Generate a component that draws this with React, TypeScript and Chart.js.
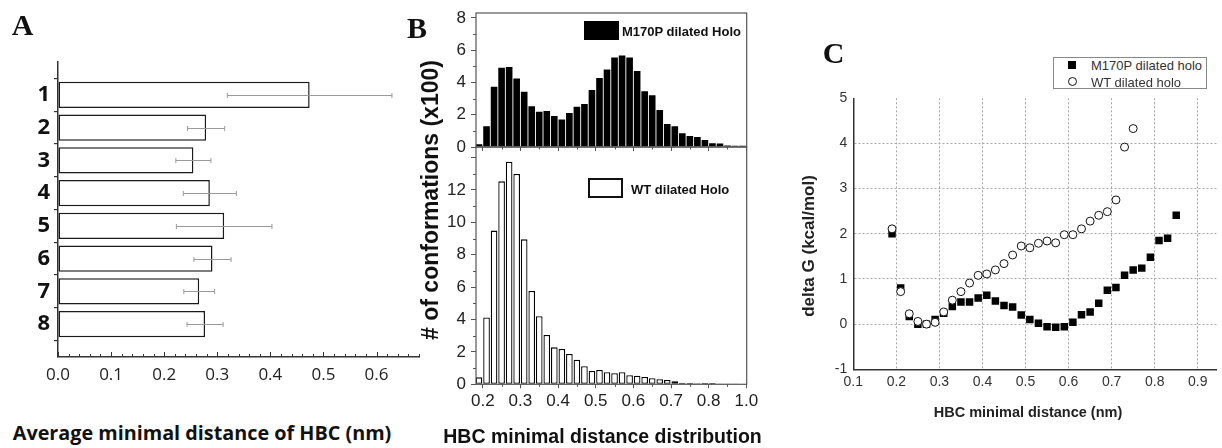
import React, { useEffect, useRef } from 'react';
import { Chart, registerables } from 'chart.js';

Chart.register(...registerables);

// ---------- Panel A data ----------
const groupLabels = ['1', '2', '3', '4', '5', '6', '7', '8'];
const avgDistance = [0.474, 0.279, 0.255, 0.286, 0.313, 0.291, 0.266, 0.277];
const avgError = [0.155, 0.035, 0.033, 0.05, 0.09, 0.035, 0.029, 0.034];

// ---------- Panel B data ----------
const binCenters = [
  0.19, 0.21, 0.23, 0.25, 0.27, 0.29, 0.31, 0.33, 0.35, 0.37,
  0.39, 0.41, 0.43, 0.45, 0.47, 0.49, 0.51, 0.53, 0.55, 0.57,
  0.59, 0.61, 0.63, 0.65, 0.67, 0.69, 0.71, 0.73, 0.75, 0.77,
  0.79, 0.81, 0.83, 0.85, 0.87, 0.89,
];
const m170pCounts = [
  0.17, 1.28, 3.73, 4.91, 4.95, 4.25, 3.42, 2.52, 2.19, 2.23,
  1.92, 1.71, 2.1, 2.49, 2.66, 3.53, 4.27, 4.8, 5.55, 5.67,
  5.55, 4.7, 3.46, 3.2, 2.29, 1.42, 1.28, 0.85, 0.68, 0.62,
  0.43, 0.23, 0.21, 0.1, 0.08, 0.08,
];
const wtCounts = [
  0.43, 4.12, 9.49, 12.53, 13.74, 12.98, 8.95, 5.76, 4.2, 3.05,
  2.28, 2.18, 1.87, 1.52, 1.11, 0.82, 0.88, 0.74, 0.68, 0.74,
  0.56, 0.53, 0.45, 0.37, 0.31, 0.27, 0.19, 0.1, 0.08, 0.06,
  0.08, 0.08, 0.02, 0.01, 0.01, 0.0,
];
const xTickLabelsB = ['0.2', '0.3', '0.4', '0.5', '0.6', '0.7', '0.8', '1.0'];

// ---------- Panel C data ----------
const m170pDistance = [
  0.19, 0.21, 0.23, 0.25, 0.27, 0.29, 0.31, 0.33, 0.35, 0.37, 0.39, 0.41,
  0.43, 0.45, 0.47, 0.49, 0.51, 0.53, 0.55, 0.57, 0.59, 0.61, 0.63, 0.65,
  0.67, 0.69, 0.71, 0.73, 0.75, 0.77, 0.79, 0.81, 0.83, 0.85,
];
const m170pDeltaG = [
  2.0, 0.8, 0.17, 0.0, 0.0, 0.1, 0.24, 0.39, 0.49, 0.49, 0.58, 0.64,
  0.51, 0.41, 0.38, 0.2, 0.1, 0.02, -0.06, -0.07, -0.06, 0.04, 0.21, 0.27,
  0.46, 0.75, 0.81, 1.08, 1.2, 1.24, 1.48, 1.85, 1.9, 2.41,
];
const wtDistance = [
  0.19, 0.21, 0.23, 0.25, 0.27, 0.29, 0.31, 0.33, 0.35, 0.37, 0.39, 0.41,
  0.43, 0.45, 0.47, 0.49, 0.51, 0.53, 0.55, 0.57, 0.59, 0.61, 0.63, 0.65,
  0.67, 0.69, 0.71, 0.73, 0.75,
];
const wtDeltaG = [
  2.11, 0.72, 0.23, 0.06, 0.0, 0.04, 0.27, 0.53, 0.72, 0.91, 1.08, 1.11,
  1.2, 1.34, 1.53, 1.73, 1.69, 1.79, 1.84, 1.8, 1.98, 1.98, 2.11, 2.28,
  2.41, 2.49, 2.75, 3.92, 4.33,
];

// ---------- helpers ----------
const fixW = (w: number) => (s: any) => {
  s.width = w;
  s.paddingTop = 0; s.paddingBottom = 0; s.paddingLeft = 0; s.paddingRight = 0;
};
const fixH = (h: number) => (s: any) => {
  s.height = h;
  s.paddingTop = 0; s.paddingBottom = 0; s.paddingLeft = 0; s.paddingRight = 0;
};

type TickSpec = { scaleId: string; from: number; to: number; step: number; len: number; inward: boolean; color: string; lineWidth: number };

const makeTickPlugin = (id: string, items: TickSpec[]) => ({
  id,
  afterDraw(chart: any) {
    const ctx = chart.ctx;
    const a = chart.chartArea;
    for (const it of items) {
      const s = chart.scales[it.scaleId];
      ctx.save();
      ctx.strokeStyle = it.color;
      ctx.lineWidth = it.lineWidth;
      ctx.beginPath();
      const n = Math.round((it.to - it.from) / it.step);
      for (let k = 0; k <= n; k++) {
        const v = it.from + k * it.step;
        const p = Math.round(s.getPixelForValue(v)) + 0.5;
        if (s.isHorizontal()) {
          const y0 = a.bottom;
          ctx.moveTo(p, y0);
          ctx.lineTo(p, it.inward ? y0 - it.len : y0 + it.len);
        } else {
          const x0 = a.left;
          ctx.moveTo(x0, p);
          ctx.lineTo(it.inward ? x0 + it.len : x0 - it.len, p);
        }
      }
      ctx.stroke();
      ctx.restore();
    }
  },
});

const framePlugin = {
  id: 'frame',
  afterDatasetsDraw(chart: any) {
    const { ctx, chartArea: a } = chart;
    ctx.save();
    ctx.strokeStyle = '#555';
    ctx.lineWidth = 1.2;
    ctx.strokeRect(a.left, a.top, a.right - a.left, a.bottom - a.top);
    ctx.restore();
  },
};

const errorBarPlugin = {
  id: 'errorBars',
  afterDatasetsDraw(chart: any) {
    const { ctx } = chart;
    const x = chart.scales.x;
    const y = chart.scales.y;
    ctx.save();
    ctx.strokeStyle = '#9a9a9a';
    ctx.lineWidth = 1;
    avgDistance.forEach((v, i) => {
      const py = Math.round(y.getPixelForValue(i + 1)) + 0.5;
      const x1 = x.getPixelForValue(v - avgError[i]);
      const x2 = x.getPixelForValue(v + avgError[i]);
      ctx.beginPath();
      ctx.moveTo(x1, py); ctx.lineTo(x2, py);
      ctx.moveTo(x1, py - 2.5); ctx.lineTo(x1, py + 2.5);
      ctx.moveTo(x2, py - 2.5); ctx.lineTo(x2, py + 2.5);
      ctx.stroke();
    });
    ctx.restore();
  },
};

const ARIAL = 'Liberation Sans, Arial, sans-serif';
const CALIBRI = 'Open Sans, sans-serif';

// ---------- configs ----------
const configA: any = {
  type: 'bar',
  data: {
    labels: ['', ...groupLabels, ''],
    datasets: [{
      data: [null, ...avgDistance, null],
      backgroundColor: '#ffffff',
      borderColor: '#1a1a1a',
      borderWidth: 1.5,
      borderSkipped: false,
      barPercentage: 0.8,
      categoryPercentage: 1,
    }],
  },
  options: {
    indexAxis: 'y',
    animation: false,
    responsive: false,
    layout: { padding: { left: 0, top: 62, right: 1, bottom: 0 } },
    plugins: { legend: { display: false }, tooltip: { enabled: false } },
    scales: {
      x: {
        type: 'linear', min: 0, max: 0.68, afterFit: fixH(43),
        ticks: { stepSize: 0.1, includeBounds: false, callback: (v: any) => Number(v).toFixed(1), font: { family: CALIBRI, size: 17 }, color: '#222', padding: 8, maxRotation: 0, autoSkip: false },
        grid: { display: true, drawOnChartArea: false, drawTicks: false },
        border: { display: true, color: '#333', width: 1.5 },
      },
      y: {
        type: 'category', offset: false, afterFit: fixW(58),
        ticks: { autoSkip: false, font: { family: CALIBRI, size: 22, weight: 'bold' }, color: '#111', padding: 4 },
        grid: { offset: true, drawOnChartArea: false, drawTicks: true, tickLength: 4, color: '#333', lineWidth: 1.2 },
        border: { display: true, color: '#333', width: 1.5 },
      },
    },
  },
  plugins: [
    errorBarPlugin,
    makeTickPlugin('ticksA', [
      { scaleId: 'x', from: 0, to: 0.68, step: 0.02, len: 3, inward: true, color: '#333', lineWidth: 1 },
      { scaleId: 'x', from: 0, to: 0.6, step: 0.1, len: 5, inward: true, color: '#333', lineWidth: 1 },
    ]),
  ],
};

const histX = (ticksDisplay: boolean, h: number, pad: number) => ({
  type: 'linear', min: 0.182, max: 0.901, offset: false, afterFit: fixH(h),
  ticks: { display: ticksDisplay, stepSize: 0.1, includeBounds: false, callback: (_v: any, i: number) => xTickLabelsB[i] ?? '', font: { family: ARIAL, size: 17 }, color: '#222', padding: pad, maxRotation: 0, autoSkip: false },
  grid: { offset: false, drawOnChartArea: false, drawTicks: true, tickLength: 4, color: '#555', lineWidth: 1 },
  border: { display: false },
});

const configBTop: any = {
  type: 'bar',
  data: {
    datasets: [{
      data: binCenters.map((x, i) => ({ x, y: m170pCounts[i] })),
      backgroundColor: '#000000',
      borderWidth: 0,
      barPercentage: 0.88,
      categoryPercentage: 1,
    }],
  },
  options: {
    animation: false,
    responsive: false,
    layout: { padding: { left: 0, top: 13, right: 33.3, bottom: 0 } },
    plugins: { legend: { display: false }, tooltip: { enabled: false } },
    scales: {
      x: histX(false, 13, 3),
      y: {
        type: 'linear', min: 0, max: 8.3, afterFit: fixW(76),
        ticks: { stepSize: 2, includeBounds: false, font: { family: ARIAL, size: 17 }, color: '#222', padding: 5 },
        grid: { drawOnChartArea: false, drawTicks: true, tickLength: 5, color: '#555', lineWidth: 1 },
        border: { display: false },
      },
    },
  },
  plugins: [
    framePlugin,
    makeTickPlugin('ticksBT', [
      { scaleId: 'y', from: 1, to: 7, step: 2, len: 3, inward: false, color: '#555', lineWidth: 1 },
      { scaleId: 'x', from: 0.25, to: 0.85, step: 0.1, len: 2.5, inward: false, color: '#555', lineWidth: 1 },
    ]),
  ],
};

const configBBottom: any = {
  type: 'bar',
  data: {
    datasets: [{
      data: binCenters.map((x, i) => ({ x, y: wtCounts[i] })),
      backgroundColor: '#ffffff',
      borderColor: '#000000',
      borderWidth: 1.3,
      borderSkipped: false,
      barPercentage: 0.88,
      categoryPercentage: 1,
    }],
  },
  options: {
    animation: false,
    responsive: false,
    layout: { padding: { left: 0, top: 7, right: 33.3, bottom: 0 } },
    plugins: { legend: { display: false }, tooltip: { enabled: false } },
    scales: {
      x: histX(true, 55.7, 3),
      y: {
        type: 'linear', min: 0, max: 14.65, afterFit: fixW(76),
        ticks: { stepSize: 2, includeBounds: false, callback: (v: any) => (v === 14 ? '' : String(v)), font: { family: ARIAL, size: 17 }, color: '#222', padding: 5 },
        grid: { drawOnChartArea: false, drawTicks: true, tickLength: 5, color: '#555', lineWidth: 1 },
        border: { display: false },
      },
    },
  },
  plugins: [
    framePlugin,
    makeTickPlugin('ticksBB', [
      { scaleId: 'y', from: 1, to: 13, step: 2, len: 3, inward: false, color: '#555', lineWidth: 1 },
      { scaleId: 'x', from: 0.25, to: 0.85, step: 0.1, len: 2.5, inward: false, color: '#555', lineWidth: 1 },
    ]),
  ],
};

const gridC = (skip: number[]) => (c: any) =>
  c.tick && skip.some((s) => Math.abs(c.tick.value - s) < 1e-6) ? 'rgba(0,0,0,0)' : '#a8a8a8';

const configC: any = {
  type: 'scatter',
  data: {
    datasets: [
      {
        label: 'WT dilated holo',
        data: wtDistance.map((x, i) => ({ x, y: wtDeltaG[i] })),
        pointStyle: 'circle', pointRadius: 4, backgroundColor: '#ffffff', borderColor: '#111111', borderWidth: 1, order: 0,
      },
      {
        label: 'M170P dilated holo',
        data: m170pDistance.map((x, i) => ({ x, y: m170pDeltaG[i] })),
        pointStyle: 'rect', pointRadius: 5.3, backgroundColor: '#000000', borderColor: '#000000', borderWidth: 0, order: 1,
      },
    ],
  },
  options: {
    animation: false,
    responsive: false,
    layout: { padding: { left: 0, top: 58.3, right: 0, bottom: 0 } },
    plugins: { legend: { display: false }, tooltip: { enabled: false } },
    scales: {
      x: {
        type: 'linear', min: 0.1, max: 0.944, afterFit: fixH(70.7),
        ticks: { stepSize: 0.1, includeBounds: false, callback: (v: any) => Number(v).toFixed(1), font: { family: ARIAL, size: 14 }, color: '#333', padding: 4, maxRotation: 0, autoSkip: false },
        grid: { drawTicks: false, color: gridC([0.1]), lineWidth: 1 },
        border: { display: true, color: '#333', width: 1.5, dash: [2, 2] },
      },
      y: {
        type: 'linear', min: -1, max: 5, afterFit: fixW(73.3),
        ticks: { stepSize: 1, includeBounds: false, font: { family: ARIAL, size: 14 }, color: '#333', padding: 6 },
        grid: { drawTicks: false, color: gridC([-1, 5]), lineWidth: 1 },
        border: { display: true, color: '#333', width: 1.5, dash: [2, 2] },
      },
    },
  },
};

// ---------- components ----------
function ChartBox({ left, top, width, height, config }: { left: number; top: number; width: number; height: number; config: any }) {
  const ref = useRef<HTMLCanvasElement | null>(null);
  useEffect(() => {
    if (!ref.current) return;
    const chart = new Chart(ref.current, config);
    return () => chart.destroy();
  }, [config]);
  return (
    <canvas
      ref={ref}
      width={width}
      height={height}
      style={{ position: 'absolute', left, top, width, height }}
    />
  );
}

function Txt({ x, y, children, style, rotate, anchor }: { x: number; y: number; children: React.ReactNode; style?: React.CSSProperties; rotate?: boolean; anchor?: 'center' | 'left' }) {
  const tr = anchor === 'left' ? 'translate(0,-50%)' : 'translate(-50%,-50%)';
  return (
    <div
      style={{
        position: 'absolute', left: x, top: y, whiteSpace: 'nowrap', lineHeight: 1,
        transform: tr + (rotate ? ' rotate(-90deg)' : ''),
        ...style,
      }}
    >
      {children}
    </div>
  );
}

export default function App() {
  const serif: React.CSSProperties = { fontFamily: 'Liberation Serif, Times New Roman, serif', fontWeight: 'bold', fontSize: 30, color: '#111' };
  return (
    <div style={{ position: 'absolute', left: 0, top: 0, width: 1222, height: 448, background: '#fff', overflow: 'hidden' }}>
      <ChartBox left={0} top={0} width={420} height={400} config={configA} />
      <ChartBox left={400} top={0} width={380} height={160} config={configBTop} />
      <ChartBox left={400} top={140} width={380} height={300} config={configBBottom} />
      <ChartBox left={780} top={40} width={442} height={400} config={configC} />

      {/* panel letters */}
      <Txt x={22.5} y={24.5} style={serif}>A</Txt>
      <Txt x={417} y={27.5} style={serif}>B</Txt>
      <Txt x={833.5} y={53} style={serif}>C</Txt>

      {/* panel A title */}
      <Txt x={202} y={433} style={{ fontFamily: CALIBRI, fontWeight: 'bold', fontSize: 19.8, color: '#111' }}>
        Average minimal distance of HBC (nm)
      </Txt>

      {/* panel B titles */}
      <Txt x={430} y={200} rotate style={{ fontFamily: ARIAL, fontWeight: 'bold', fontSize: 23, color: '#111' }}>
        # of conformations (x100)
      </Txt>
      <Txt x={602.5} y={437} style={{ fontFamily: ARIAL, fontWeight: 'bold', fontSize: 19.5, color: '#111' }}>
        HBC minimal distance distribution
      </Txt>

      {/* panel B legends */}
      <div style={{ position: 'absolute', left: 584, top: 21, width: 35, height: 19, background: '#000' }} />
      <Txt x={622} y={30.5} anchor="left" style={{ fontFamily: ARIAL, fontWeight: 'bold', fontSize: 13, color: '#111' }}>
        M170P dilated Holo
      </Txt>
      <div style={{ position: 'absolute', left: 588, top: 178, width: 35, height: 20, background: '#fff', border: '2px solid #111', boxSizing: 'border-box' }} />
      <Txt x={631} y={189} anchor="left" style={{ fontFamily: ARIAL, fontWeight: 'bold', fontSize: 13, color: '#111' }}>
        WT dilated Holo
      </Txt>

      {/* panel C titles */}
      <Txt x={808} y={245.5} rotate style={{ fontFamily: ARIAL, fontWeight: 'bold', fontSize: 17, color: '#222' }}>
        delta G (kcal/mol)
      </Txt>
      <Txt x={1028} y={412} style={{ fontFamily: ARIAL, fontWeight: 'bold', fontSize: 14.5, color: '#222' }}>
        HBC minimal distance (nm)
      </Txt>

      {/* panel C legend */}
      <div style={{ position: 'absolute', left: 1053, top: 57, width: 154, height: 32, border: '1px solid #888', boxSizing: 'border-box', background: '#fff' }} />
      <div style={{ position: 'absolute', left: 1068, top: 60.5, width: 8, height: 8, background: '#000' }} />
      <div style={{ position: 'absolute', left: 1067.5, top: 77, width: 9, height: 9, borderRadius: '50%', border: '1px solid #111', boxSizing: 'border-box', background: '#fff' }} />
      <Txt x={1091} y={64.5} anchor="left" style={{ fontFamily: ARIAL, fontSize: 13, color: '#333' }}>
        M170P dilated holo
      </Txt>
      <Txt x={1091} y={81.5} anchor="left" style={{ fontFamily: ARIAL, fontSize: 13, color: '#333' }}>
        WT dilated holo
      </Txt>
    </div>
  );
}
